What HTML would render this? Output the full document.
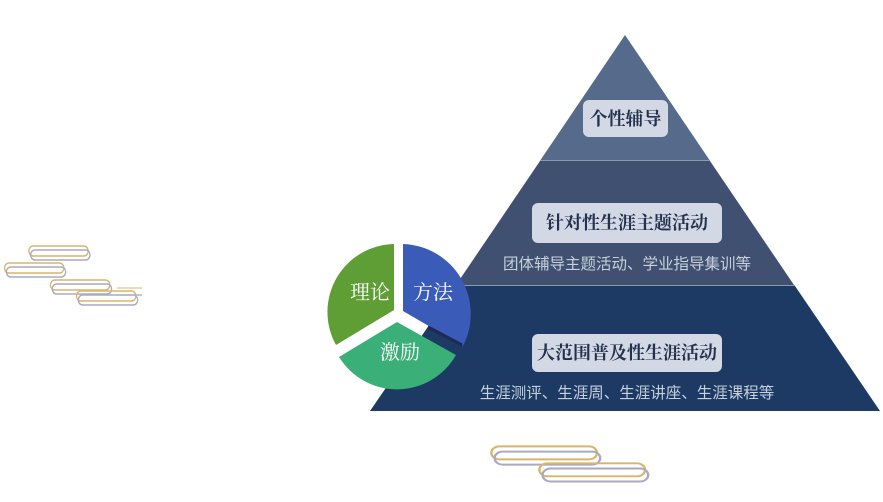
<!DOCTYPE html>
<html><head><meta charset="utf-8"><style>
html,body{margin:0;padding:0;background:#fff;}
svg{display:block}
</style></head><body>
<svg width="883" height="502" viewBox="0 0 883 502" xmlns="http://www.w3.org/2000/svg">
<defs>
<g id="clip">
<path d="M10 0 H60 a5 5 0 0 1 0 10 H4 a5 5 0 0 1 0 -10 H50" fill="none" stroke="#d8b56a" stroke-width="1.5"/>
<path d="M12 4 H62 a5 5 0 0 1 0 10 H6 a5 5 0 0 1 0 -10 H52" fill="none" stroke="#a9aac2" stroke-width="1.5"/>
</g>
</defs>
<polygon points="625,35 540.5,160 709.5,160" fill="#566a8c"/>
<polygon points="540,161 710,161 794,285 456,285" fill="#3f5070"/>
<polygon points="456,286 795,286 880,411 370,411" fill="#1c3a64"/>
<line x1="540" y1="160.5" x2="710" y2="160.5" stroke="#8b9ab3" stroke-width="1"/>
<line x1="456" y1="285.5" x2="795" y2="285.5" stroke="#8b9ab3" stroke-width="1"/>
<rect x="583" y="100" width="85" height="37" rx="6" fill="#d2d9e5"/>
<rect x="532" y="203" width="190" height="40" rx="6" fill="#d2d9e5"/>
<rect x="532" y="334" width="190" height="38" rx="6" fill="#d2d9e5"/>
<g font-family="'Liberation Serif','Noto Serif CJK SC',serif" font-weight="bold" fill="#23314f" text-anchor="middle">
<text x="625.5" y="125" font-size="18">个性辅导</text>
<text x="627" y="229" font-size="18">针对性生涯主题活动</text>
<text x="627" y="359" font-size="18">大范围普及性生涯活动</text>
</g>
<g font-family="'Liberation Sans','Noto Sans CJK SC',sans-serif" fill="#c8d0dc" text-anchor="middle" font-size="15.5">
<text x="627" y="269">团体辅导主题活动、学业指导集训等</text>
<text x="627" y="398">生涯测评、生涯周、生涯讲座、生涯课程等</text>
</g>
<path d="M403 311 L403 244 A70 70 0 0 1 463 346 Z" fill="#3a5bb8"/>
<path d="M394 310 L394 244 A68 68 0 0 0 336 345 Z" fill="#5f9d35"/>
<path d="M397 322 L456 355 A68 68 0 0 1 339 357 Z" fill="#3aaf78"/>
<line x1="428" y1="327" x2="462" y2="345" stroke="#1c2a55" stroke-width="3"/>
<g font-family="'Liberation Serif','Noto Serif CJK SC',serif" fill="#fff" font-size="20" text-anchor="middle">
<text x="370" y="299">理论</text>
<text x="433" y="299">方法</text>
<text x="400" y="359">激励</text>
</g>
<g transform="translate(0,0) scale(0.9,1)">
<use href="#clip" transform="translate(33,246)"/>
<use href="#clip" transform="translate(6,263)"/>
<use href="#clip" transform="translate(57,280)"/>
<use href="#clip" transform="translate(86,291)"/>
</g>
<line x1="117" y1="288" x2="142" y2="288" stroke="#e6cf9a" stroke-width="1.5"/>
<line x1="117" y1="295" x2="142" y2="295" stroke="#b3b4c8" stroke-width="1.5"/>
<g transform="translate(493,436) scale(1.6,1.3)">
<use href="#clip" transform="translate(0,8)"/>
<use href="#clip" transform="translate(30,21)"/>
</g>
</svg>
</body></html>
